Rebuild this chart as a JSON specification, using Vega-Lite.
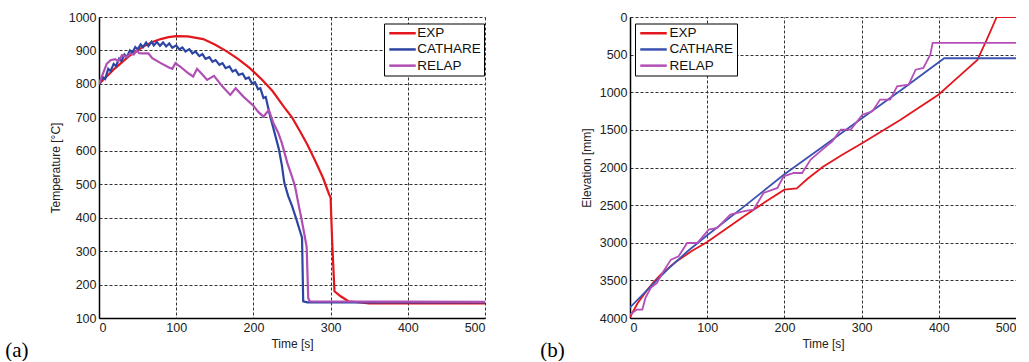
{
  "$schema": "https://vega.github.io/schema/vega-lite/v6.json",
  "background": "white",
  "padding": {"left": 5, "top": 11, "right": 0, "bottom": 0},
  "spacing": 145,
  "bounds": "flush",
  "datasets": {
    "temp": [
      {"model": "EXP", "t": 0, "v": 800}, {"model": "EXP", "t": 10, "v": 822}, {"model": "EXP", "t": 20, "v": 845}, {"model": "EXP", "t": 30, "v": 865}, {"model": "EXP", "t": 40, "v": 885}, {"model": "EXP", "t": 50, "v": 900}, {"model": "EXP", "t": 60, "v": 915}, {"model": "EXP", "t": 70, "v": 926}, {"model": "EXP", "t": 80, "v": 934}, {"model": "EXP", "t": 90, "v": 940}, {"model": "EXP", "t": 100, "v": 943}, {"model": "EXP", "t": 115, "v": 942}, {"model": "EXP", "t": 135, "v": 934}, {"model": "EXP", "t": 150, "v": 918}, {"model": "EXP", "t": 165, "v": 898}, {"model": "EXP", "t": 180, "v": 875}, {"model": "EXP", "t": 195, "v": 848}, {"model": "EXP", "t": 210, "v": 815}, {"model": "EXP", "t": 225, "v": 778}, {"model": "EXP", "t": 240, "v": 730}, {"model": "EXP", "t": 250, "v": 700}, {"model": "EXP", "t": 260, "v": 660}, {"model": "EXP", "t": 270, "v": 618}, {"model": "EXP", "t": 280, "v": 570}, {"model": "EXP", "t": 290, "v": 520}, {"model": "EXP", "t": 298, "v": 470}, {"model": "EXP", "t": 300, "v": 460}, {"model": "EXP", "t": 302, "v": 330}, {"model": "EXP", "t": 305, "v": 180}, {"model": "EXP", "t": 313, "v": 165}, {"model": "EXP", "t": 323, "v": 150}, {"model": "EXP", "t": 350, "v": 144}, {"model": "EXP", "t": 500, "v": 144},
      {"model": "CATHARE", "t": 0, "v": 800}, {"model": "CATHARE", "t": 5, "v": 820}, {"model": "CATHARE", "t": 8, "v": 815}, {"model": "CATHARE", "t": 12, "v": 845}, {"model": "CATHARE", "t": 15, "v": 838}, {"model": "CATHARE", "t": 19, "v": 860}, {"model": "CATHARE", "t": 22, "v": 853}, {"model": "CATHARE", "t": 26, "v": 875}, {"model": "CATHARE", "t": 29, "v": 868}, {"model": "CATHARE", "t": 33, "v": 888}, {"model": "CATHARE", "t": 36, "v": 880}, {"model": "CATHARE", "t": 40, "v": 900}, {"model": "CATHARE", "t": 43, "v": 893}, {"model": "CATHARE", "t": 47, "v": 910}, {"model": "CATHARE", "t": 50, "v": 903}, {"model": "CATHARE", "t": 54, "v": 918}, {"model": "CATHARE", "t": 57, "v": 910}, {"model": "CATHARE", "t": 61, "v": 924}, {"model": "CATHARE", "t": 64, "v": 913}, {"model": "CATHARE", "t": 68, "v": 926}, {"model": "CATHARE", "t": 71, "v": 915}, {"model": "CATHARE", "t": 75, "v": 925}, {"model": "CATHARE", "t": 79, "v": 914}, {"model": "CATHARE", "t": 83, "v": 924}, {"model": "CATHARE", "t": 87, "v": 912}, {"model": "CATHARE", "t": 91, "v": 921}, {"model": "CATHARE", "t": 95, "v": 908}, {"model": "CATHARE", "t": 100, "v": 915}, {"model": "CATHARE", "t": 104, "v": 903}, {"model": "CATHARE", "t": 108, "v": 909}, {"model": "CATHARE", "t": 112, "v": 897}, {"model": "CATHARE", "t": 117, "v": 904}, {"model": "CATHARE", "t": 121, "v": 891}, {"model": "CATHARE", "t": 125, "v": 897}, {"model": "CATHARE", "t": 130, "v": 883}, {"model": "CATHARE", "t": 134, "v": 889}, {"model": "CATHARE", "t": 138, "v": 875}, {"model": "CATHARE", "t": 143, "v": 880}, {"model": "CATHARE", "t": 147, "v": 866}, {"model": "CATHARE", "t": 151, "v": 871}, {"model": "CATHARE", "t": 156, "v": 857}, {"model": "CATHARE", "t": 160, "v": 862}, {"model": "CATHARE", "t": 164, "v": 847}, {"model": "CATHARE", "t": 169, "v": 852}, {"model": "CATHARE", "t": 173, "v": 837}, {"model": "CATHARE", "t": 177, "v": 842}, {"model": "CATHARE", "t": 181, "v": 827}, {"model": "CATHARE", "t": 186, "v": 831}, {"model": "CATHARE", "t": 190, "v": 815}, {"model": "CATHARE", "t": 194, "v": 819}, {"model": "CATHARE", "t": 198, "v": 802}, {"model": "CATHARE", "t": 202, "v": 805}, {"model": "CATHARE", "t": 206, "v": 784}, {"model": "CATHARE", "t": 209, "v": 787}, {"model": "CATHARE", "t": 213, "v": 758}, {"model": "CATHARE", "t": 216, "v": 761}, {"model": "CATHARE", "t": 219, "v": 730}, {"model": "CATHARE", "t": 222, "v": 700}, {"model": "CATHARE", "t": 225, "v": 675}, {"model": "CATHARE", "t": 229, "v": 640}, {"model": "CATHARE", "t": 233, "v": 605}, {"model": "CATHARE", "t": 237, "v": 555}, {"model": "CATHARE", "t": 240, "v": 505}, {"model": "CATHARE", "t": 245, "v": 465}, {"model": "CATHARE", "t": 250, "v": 435}, {"model": "CATHARE", "t": 255, "v": 400}, {"model": "CATHARE", "t": 259, "v": 370}, {"model": "CATHARE", "t": 263, "v": 340}, {"model": "CATHARE", "t": 264.5, "v": 150}, {"model": "CATHARE", "t": 270, "v": 147}, {"model": "CATHARE", "t": 500, "v": 147},
      {"model": "RELAP", "t": 0, "v": 800}, {"model": "RELAP", "t": 5, "v": 830}, {"model": "RELAP", "t": 10, "v": 860}, {"model": "RELAP", "t": 15, "v": 871}, {"model": "RELAP", "t": 21, "v": 874}, {"model": "RELAP", "t": 25, "v": 868}, {"model": "RELAP", "t": 30, "v": 886}, {"model": "RELAP", "t": 36, "v": 880}, {"model": "RELAP", "t": 40, "v": 890}, {"model": "RELAP", "t": 45, "v": 888}, {"model": "RELAP", "t": 49, "v": 900}, {"model": "RELAP", "t": 52, "v": 892}, {"model": "RELAP", "t": 56, "v": 891}, {"model": "RELAP", "t": 64, "v": 891}, {"model": "RELAP", "t": 69, "v": 877}, {"model": "RELAP", "t": 80, "v": 862}, {"model": "RELAP", "t": 90, "v": 850}, {"model": "RELAP", "t": 95, "v": 845}, {"model": "RELAP", "t": 99, "v": 862}, {"model": "RELAP", "t": 105, "v": 852}, {"model": "RELAP", "t": 115, "v": 833}, {"model": "RELAP", "t": 122, "v": 822}, {"model": "RELAP", "t": 127, "v": 845}, {"model": "RELAP", "t": 133, "v": 830}, {"model": "RELAP", "t": 140, "v": 812}, {"model": "RELAP", "t": 149, "v": 824}, {"model": "RELAP", "t": 160, "v": 792}, {"model": "RELAP", "t": 170, "v": 767}, {"model": "RELAP", "t": 177, "v": 787}, {"model": "RELAP", "t": 187, "v": 762}, {"model": "RELAP", "t": 200, "v": 735}, {"model": "RELAP", "t": 206, "v": 717}, {"model": "RELAP", "t": 213, "v": 702}, {"model": "RELAP", "t": 220, "v": 722}, {"model": "RELAP", "t": 226, "v": 682}, {"model": "RELAP", "t": 232, "v": 655}, {"model": "RELAP", "t": 237, "v": 622}, {"model": "RELAP", "t": 244, "v": 563}, {"model": "RELAP", "t": 250, "v": 523}, {"model": "RELAP", "t": 254, "v": 493}, {"model": "RELAP", "t": 258, "v": 445}, {"model": "RELAP", "t": 262, "v": 400}, {"model": "RELAP", "t": 265, "v": 363}, {"model": "RELAP", "t": 269, "v": 313}, {"model": "RELAP", "t": 271, "v": 160}, {"model": "RELAP", "t": 273, "v": 150}, {"model": "RELAP", "t": 500, "v": 148}
    ],
    "elev": [
      {"model": "EXP", "t": 0, "v": 3990}, {"model": "EXP", "t": 10, "v": 3800}, {"model": "EXP", "t": 20, "v": 3660}, {"model": "EXP", "t": 30, "v": 3530}, {"model": "EXP", "t": 40, "v": 3420}, {"model": "EXP", "t": 60, "v": 3250}, {"model": "EXP", "t": 80, "v": 3110}, {"model": "EXP", "t": 100, "v": 2990}, {"model": "EXP", "t": 125, "v": 2810}, {"model": "EXP", "t": 150, "v": 2630}, {"model": "EXP", "t": 175, "v": 2460}, {"model": "EXP", "t": 200, "v": 2295}, {"model": "EXP", "t": 216, "v": 2277}, {"model": "EXP", "t": 230, "v": 2150}, {"model": "EXP", "t": 250, "v": 1990}, {"model": "EXP", "t": 275, "v": 1830}, {"model": "EXP", "t": 300, "v": 1680}, {"model": "EXP", "t": 325, "v": 1525}, {"model": "EXP", "t": 350, "v": 1370}, {"model": "EXP", "t": 375, "v": 1200}, {"model": "EXP", "t": 400, "v": 1030}, {"model": "EXP", "t": 425, "v": 800}, {"model": "EXP", "t": 450, "v": 571}, {"model": "EXP", "t": 463, "v": 280}, {"model": "EXP", "t": 475, "v": 0}, {"model": "EXP", "t": 500, "v": 0},
      {"model": "CATHARE", "t": 0, "v": 3860}, {"model": "CATHARE", "t": 25, "v": 3600}, {"model": "CATHARE", "t": 50, "v": 3340}, {"model": "CATHARE", "t": 75, "v": 3110}, {"model": "CATHARE", "t": 100, "v": 2900}, {"model": "CATHARE", "t": 150, "v": 2500}, {"model": "CATHARE", "t": 200, "v": 2090}, {"model": "CATHARE", "t": 250, "v": 1720}, {"model": "CATHARE", "t": 300, "v": 1350}, {"model": "CATHARE", "t": 350, "v": 980}, {"model": "CATHARE", "t": 407, "v": 548}, {"model": "CATHARE", "t": 500, "v": 548},
      {"model": "RELAP", "t": 0, "v": 3955}, {"model": "RELAP", "t": 9, "v": 3888}, {"model": "RELAP", "t": 16, "v": 3888}, {"model": "RELAP", "t": 20, "v": 3733}, {"model": "RELAP", "t": 27, "v": 3600}, {"model": "RELAP", "t": 35, "v": 3534}, {"model": "RELAP", "t": 42, "v": 3401}, {"model": "RELAP", "t": 53, "v": 3224}, {"model": "RELAP", "t": 63, "v": 3180}, {"model": "RELAP", "t": 74, "v": 3003}, {"model": "RELAP", "t": 87, "v": 3003}, {"model": "RELAP", "t": 102, "v": 2826}, {"model": "RELAP", "t": 113, "v": 2803}, {"model": "RELAP", "t": 130, "v": 2626}, {"model": "RELAP", "t": 148, "v": 2581}, {"model": "RELAP", "t": 160, "v": 2560}, {"model": "RELAP", "t": 173, "v": 2338}, {"model": "RELAP", "t": 191, "v": 2272}, {"model": "RELAP", "t": 199, "v": 2117}, {"model": "RELAP", "t": 212, "v": 2073}, {"model": "RELAP", "t": 223, "v": 2073}, {"model": "RELAP", "t": 234, "v": 1895}, {"model": "RELAP", "t": 249, "v": 1763}, {"model": "RELAP", "t": 262, "v": 1652}, {"model": "RELAP", "t": 273, "v": 1497}, {"model": "RELAP", "t": 286, "v": 1497}, {"model": "RELAP", "t": 301, "v": 1298}, {"model": "RELAP", "t": 314, "v": 1253}, {"model": "RELAP", "t": 324, "v": 1098}, {"model": "RELAP", "t": 337, "v": 1098}, {"model": "RELAP", "t": 346, "v": 921}, {"model": "RELAP", "t": 361, "v": 899}, {"model": "RELAP", "t": 370, "v": 700}, {"model": "RELAP", "t": 380, "v": 677}, {"model": "RELAP", "t": 389, "v": 500}, {"model": "RELAP", "t": 392, "v": 345}, {"model": "RELAP", "t": 500, "v": 345}
    ]
  },
  "hconcat": [
    {
      "width": 386,
      "height": 301,
      "data": {"name": "temp"},
      "title": {"text": "(a)", "orient": "bottom", "anchor": "start", "dx": -44, "offset": -10, "font": "Liberation Serif", "fontSize": 21, "fontWeight": "normal", "color": "#000"},
      "mark": {"type": "line", "strokeWidth": 2.2, "clip": true},
      "encoding": {
        "x": {"field": "t", "type": "quantitative", "scale": {"domain": [0, 500], "nice": false}, "axis": {"title": "Time [s]", "values": [0, 100, 200, 300, 400, 500], "format": "d"}},
        "y": {"field": "v", "type": "quantitative", "scale": {"domain": [100, 1000], "nice": false, "zero": false}, "axis": {"title": "Temperature [°C]", "values": [100, 200, 300, 400, 500, 600, 700, 800, 900, 1000], "format": "d"}},
        "color": {"field": "model", "type": "nominal", "sort": ["EXP", "CATHARE", "RELAP"], "scale": {"domain": ["EXP", "CATHARE", "RELAP"], "range": ["#e3171d", "#2c45a3", "#b04fb3"]}, "legend": {"orient": "none", "legendX": 285, "legendY": 6.5, "labelOffset": 16.8}}
      }
    },
    {
      "width": 386,
      "height": 301,
      "data": {"name": "elev"},
      "title": {"text": "(b)", "orient": "bottom", "anchor": "start", "dx": -40, "offset": -10, "font": "Liberation Serif", "fontSize": 21, "fontWeight": "normal", "color": "#000"},
      "mark": {"type": "line", "strokeWidth": 1.8, "clip": true},
      "encoding": {
        "x": {"field": "t", "type": "quantitative", "scale": {"domain": [0, 500], "nice": false}, "axis": {"title": "Time [s]", "values": [0, 100, 200, 300, 400, 500], "format": "d"}},
        "y": {"field": "v", "type": "quantitative", "scale": {"domain": [0, 4000], "nice": false, "reverse": true}, "axis": {"title": "Elevation [mm]", "values": [0, 500, 1000, 1500, 2000, 2500, 3000, 3500, 4000], "format": "d"}},
        "color": {"field": "model", "type": "nominal", "sort": ["EXP", "CATHARE", "RELAP"], "scale": {"domain": ["EXP", "CATHARE", "RELAP"], "range": ["#e3171d", "#3b52b0", "#b54fb8"]}, "legend": {"orient": "none", "legendX": 5, "legendY": 6.5, "labelOffset": 18}}
      }
    }
  ],
  "resolve": {"scale": {"color": "independent"}, "legend": {"color": "independent"}},
  "config": {
    "view": {"stroke": null},
    "axis": {
      "labelFont": "Liberation Sans", "labelFontSize": 12.5, "labelColor": "#222",
      "titleFont": "Liberation Sans", "titleFontSize": 12, "titleFontWeight": "normal", "titleColor": "#222",
      "domainColor": "#000", "domainWidth": 1.5, "ticks": false, "labelPadding": 3,
      "grid": true, "gridColor": "#333", "gridDash": [3, 2], "gridOpacity": 1, "gridWidth": 1
    },
    "axisX": {"titlePadding": 5},
    "axisY": {"titlePadding": 6},
    "legend": {
      "title": null, "symbolType": "M-0.9,0H4.4", "symbolSize": 100, "symbolStrokeWidth": 2.5,
      "labelFont": "Liberation Sans", "labelFontSize": 13.5, "labelColor": "#111",
      "strokeColor": "#000", "fillColor": "#fff", "padding": 3, "rowPadding": 1.2
    }
  }
}
